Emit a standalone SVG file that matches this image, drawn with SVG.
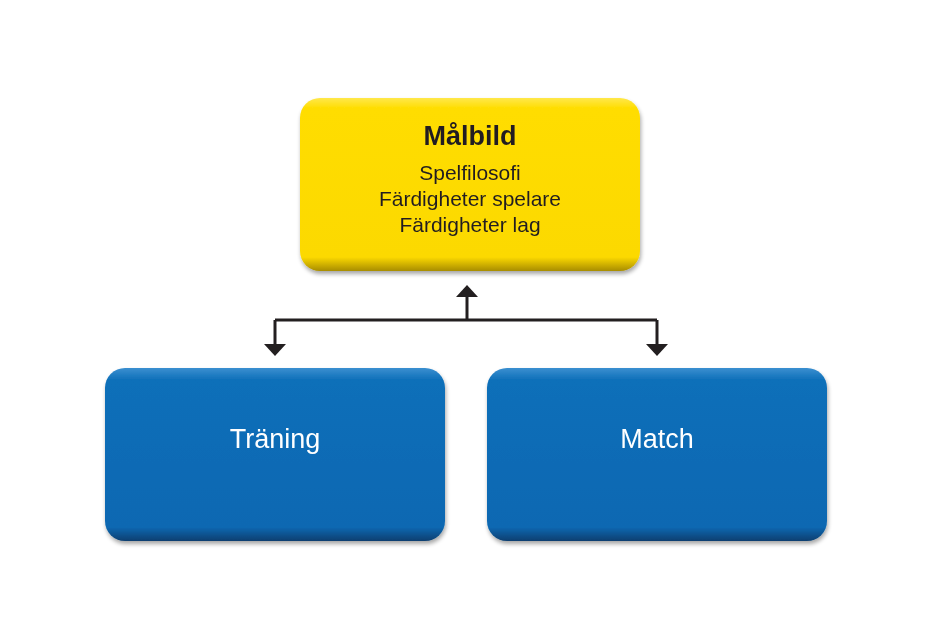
<svg xmlns="http://www.w3.org/2000/svg" width="942" height="618" viewBox="0 0 942 618">
<style>
.t{font-family:"Liberation Sans",Arial,sans-serif;text-anchor:middle}
.dark{fill:#231f20}
.white{fill:#ffffff}
.conn{stroke:#231f20;stroke-width:3;fill:none}
</style>
<defs>
<linearGradient id="yg" x1="0" y1="0" x2="0" y2="1">
<stop offset="0" stop-color="#ffe84a"/>
<stop offset="0.06" stop-color="#ffdd00"/>
<stop offset="0.92" stop-color="#fcd900"/>
<stop offset="1" stop-color="#a88d00"/>
</linearGradient>
<linearGradient id="bg" x1="0" y1="0" x2="0" y2="1">
<stop offset="0" stop-color="#3a8fd0"/>
<stop offset="0.07" stop-color="#0e6fb9"/>
<stop offset="0.92" stop-color="#0a68b2"/>
<stop offset="1" stop-color="#0a3f70"/>
</linearGradient>
<filter id="sh" x="-10%" y="-10%" width="120%" height="130%">
<feGaussianBlur in="SourceAlpha" stdDeviation="2"/>
<feOffset dx="1" dy="3"/>
<feComponentTransfer><feFuncA type="linear" slope="0.35"/></feComponentTransfer>
<feMerge><feMergeNode/><feMergeNode in="SourceGraphic"/></feMerge>
</filter>
</defs>
<rect width="942" height="618" fill="#ffffff"/>
<g id="connectors">
<path class="conn" d="M275,320 H657"/>
<path class="conn" d="M467,320 V297"/>
<polygon points="456,297 478,297 467,285" fill="#231f20"/>
<path class="conn" d="M275,320 V344"/>
<polygon points="264,344 286,344 275,356" fill="#231f20"/>
<path class="conn" d="M657,320 V344"/>
<polygon points="646,344 668,344 657,356" fill="#231f20"/>
</g>
<g id="malbild" filter="url(#sh)">
<rect x="300" y="98" width="340" height="173" rx="20" fill="url(#yg)"/>
<text class="t dark" x="470" y="145" font-size="27" font-weight="bold">Målbild</text>
<text class="t dark" x="470" y="180" font-size="21">Spelfilosofi</text>
<text class="t dark" x="470" y="206" font-size="21">Färdigheter spelare</text>
<text class="t dark" x="470" y="232" font-size="21">Färdigheter lag</text>
</g>
<g id="traning" filter="url(#sh)">
<rect x="105" y="368" width="340" height="173" rx="20" fill="url(#bg)"/>
<text class="t white" x="275" y="448" font-size="27">Träning</text>
</g>
<g id="match" filter="url(#sh)">
<rect x="487" y="368" width="340" height="173" rx="20" fill="url(#bg)"/>
<text class="t white" x="657" y="448" font-size="27">Match</text>
</g>
</svg>
